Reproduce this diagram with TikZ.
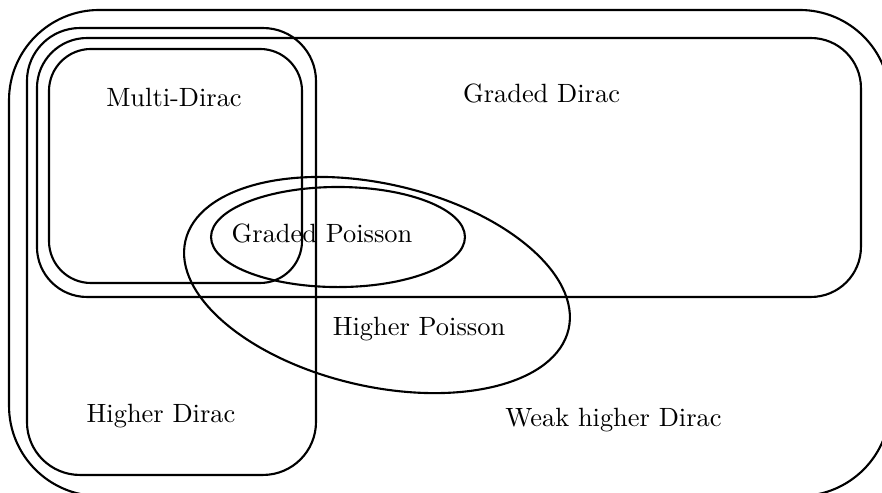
\documentclass[tikz,border=0pt]{standalone}
\usepackage{amsmath}
\usepackage{tikz}
\usetikzlibrary{calc, positioning}
\tikzset{
    venn/.style={thick},
    region/.style={draw, thick},
    setname/.style={anchor=base, font=\normalsize},
}
\begin{document}
\begin{tikzpicture}[venn]
    \useasboundingbox (0,0) rectangle (11.74,6.562);

    % the four rounded boxes, from outside to inside
    \draw[region, rounded corners=1.2cm]   (0.120,-0.040) rectangle (11.846,6.429);
    \draw[region, rounded corners=0.705cm] (0.359,0.240)  rectangle (4.206,6.189);
    \draw[region, rounded corners=0.666cm] (0.492,2.609)  rectangle (11.460,6.056);
    \draw[region, rounded corners=0.559cm] (0.652,2.795)  rectangle (4.020,5.910);

    % the two Poisson ellipses
    \coordinate (gp) at (4.499,3.407);
    \coordinate (hp) at (5.018,2.768);
    \draw[region] (gp) ellipse (1.690 and 0.666);
    \draw[region, rotate around={-13:(hp)}] (hp) ellipse (2.617 and 1.347);

    \node[setname] (multi)  at (2.316,5.138) {Multi-Dirac};
    \node[setname] (graded) at (7.208,5.204) {Graded Dirac};
    \node[setname] (gpoiss) at (4.286,3.330) {Graded Poisson};
    \node[setname] (hpoiss) at (5.577,2.090) {Higher Poisson};
    \node[setname] (higher) at (2.143,0.932) {Higher Dirac};
    \node[setname] (weak)   at (8.166,0.880) {Weak higher Dirac};
\end{tikzpicture}
\end{document}
